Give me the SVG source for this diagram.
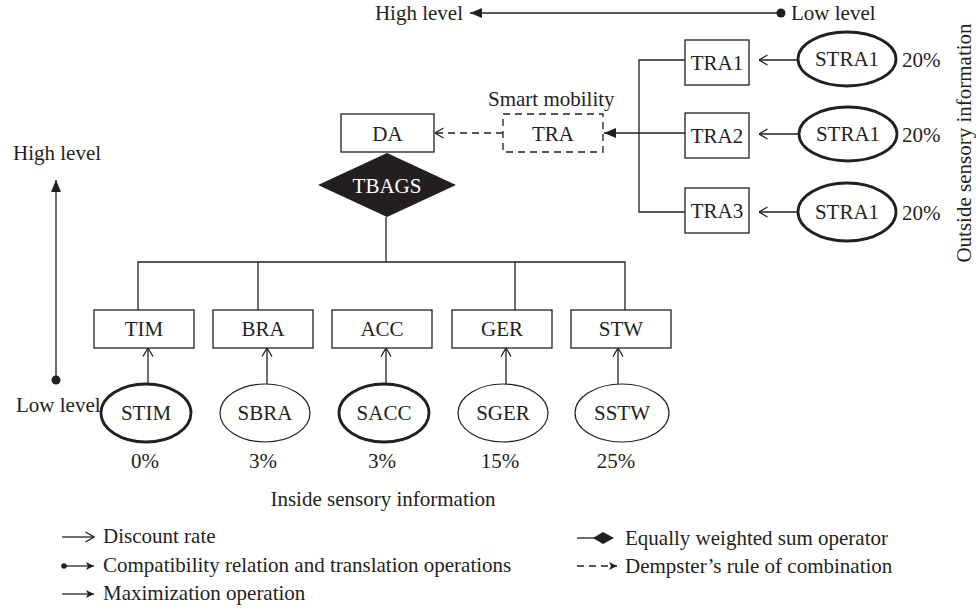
<svg xmlns="http://www.w3.org/2000/svg" width="976" height="610" viewBox="0 0 976 610">
<style>
text{font-family:"Liberation Serif","Times New Roman",serif;font-size:21px;fill:#231f20}
.c{text-anchor:middle}
.box{fill:#fff;stroke:#231f20;stroke-width:1.3}
.ln{fill:none;stroke:#231f20;stroke-width:1.3}
.thin{fill:#fff;stroke:#231f20;stroke-width:1.2}
.thick{fill:#fff;stroke:#231f20;stroke-width:2.8}
.dash{stroke-dasharray:7 5}
</style>
<defs>
<marker id="open" viewBox="0 0 10 12" refX="9.5" refY="6" markerWidth="10" markerHeight="12" orient="auto" markerUnits="userSpaceOnUse"><path d="M1,1 L9.5,6 L1,11" fill="none" stroke="#231f20" stroke-width="1.3"/></marker>
<marker id="fill" viewBox="0 0 12 10" refX="12" refY="5" markerWidth="12" markerHeight="10" orient="auto" markerUnits="userSpaceOnUse"><path d="M0,0 L12,5 L0,10 Z" fill="#231f20"/></marker>
<marker id="dot" viewBox="0 0 10 10" refX="5" refY="5" markerWidth="10" markerHeight="10" orient="auto" markerUnits="userSpaceOnUse"><circle cx="5" cy="5" r="4.5" fill="#231f20"/></marker>
<marker id="sdot" viewBox="0 0 6 6" refX="3" refY="3" markerWidth="6" markerHeight="6" orient="auto" markerUnits="userSpaceOnUse"><circle cx="3" cy="3" r="2.8" fill="#231f20"/></marker>
<marker id="small" viewBox="0 0 8 8" refX="8" refY="4" markerWidth="8" markerHeight="8" orient="auto" markerUnits="userSpaceOnUse"><path d="M0,0 L8,4 L0,8 L2,4 Z" fill="#231f20"/></marker>
</defs>

<g id="labels">
<text x="463" y="20" text-anchor="end">High level</text>
<text x="791" y="20">Low level</text>
<text x="13" y="160">High level</text>
<text x="16" y="412">Low level</text>
<text x="488" y="106">Smart mobility</text>
<text transform="translate(971,143) rotate(-90)" class="c">Outside sensory information</text>
<text x="383" y="506" class="c">Inside sensory information</text>
</g>

<g id="connectors">
<path class="ln" d="M781,13 L470,13" marker-start="url(#dot)" marker-end="url(#fill)"/>
<path class="ln" d="M56,380 L56,180" marker-start="url(#dot)" marker-end="url(#fill)"/>
<path class="ln" d="M798,60 L759,60" marker-end="url(#open)"/>
<path class="ln" d="M800,134 L759,134" marker-end="url(#open)"/>
<path class="ln" d="M798,212 L759,212" marker-end="url(#open)"/>
<path class="ln" d="M685,60 L639,60 L639,212 L685,212"/>
<path class="ln" d="M685,133 L604,133" marker-end="url(#fill)"/>
<path class="ln dash" d="M503,133 L435,133" marker-end="url(#open)"/>
<path class="ln" d="M386,217 L386,262"/>
<path class="ln" d="M138,310 L138,262 L625,262 L625,310"/>
<path class="ln" d="M258,262 L258,310"/>
<path class="ln" d="M515,262 L515,310"/>
<path class="ln" d="M148,384 L148,348" marker-end="url(#open)"/>
<path class="ln" d="M267,384 L267,348" marker-end="url(#open)"/>
<path class="ln" d="M386,384 L386,348" marker-end="url(#open)"/>
<path class="ln" d="M506,384 L506,348" marker-end="url(#open)"/>
<path class="ln" d="M618,384 L618,348" marker-end="url(#open)"/>
</g>

<g id="DA"><rect class="box" x="341" y="114" width="93" height="38"/><text x="387.5" y="141" class="c">DA</text></g>
<g id="TBAGS"><polygon points="387,153 456,185 387,217 318,185" fill="#231f20"/><text x="387" y="193" class="c" style="fill:#fff">TBAGS</text></g>
<g id="TRA"><rect class="box dash" x="503" y="114" width="100" height="38"/><text x="553" y="141" class="c">TRA</text></g>

<g id="TRA1"><rect class="box" x="685" y="40" width="64" height="45"/><text x="717" y="70" class="c">TRA1</text></g>
<g id="TRA2"><rect class="box" x="685" y="113" width="64" height="45"/><text x="717" y="143" class="c">TRA2</text></g>
<g id="TRA3"><rect class="box" x="685" y="188" width="64" height="45"/><text x="717" y="218" class="c">TRA3</text></g>

<g id="STRA1a"><ellipse class="thick" cx="847" cy="59" rx="49" ry="27"/><text x="847" y="66" class="c">STRA1</text><text x="902" y="67">20%</text></g>
<g id="STRA1b"><ellipse class="thick" cx="848" cy="134" rx="49" ry="27"/><text x="848" y="141" class="c">STRA1</text><text x="902" y="142">20%</text></g>
<g id="STRA1c"><ellipse class="thick" cx="847" cy="212" rx="49" ry="29"/><text x="847" y="219" class="c">STRA1</text><text x="902" y="220">20%</text></g>

<g id="TIM"><rect class="box" x="94" y="310" width="100" height="38"/><text x="144" y="336" class="c">TIM</text></g>
<g id="BRA"><rect class="box" x="213" y="310" width="100" height="38"/><text x="263" y="336" class="c">BRA</text></g>
<g id="ACC"><rect class="box" x="332" y="310" width="100" height="38"/><text x="382" y="336" class="c">ACC</text></g>
<g id="GER"><rect class="box" x="452" y="310" width="100" height="38"/><text x="502" y="336" class="c">GER</text></g>
<g id="STW"><rect class="box" x="571" y="310" width="100" height="38"/><text x="621" y="336" class="c">STW</text></g>

<g id="STIM"><ellipse class="thick" cx="146" cy="413" rx="45" ry="29"/><text x="146" y="420" class="c">STIM</text><text x="145" y="468" class="c">0%</text></g>
<g id="SBRA"><ellipse class="thin" cx="265" cy="413" rx="45" ry="29"/><text x="265" y="420" class="c">SBRA</text><text x="263" y="468" class="c">3%</text></g>
<g id="SACC"><ellipse class="thick" cx="384" cy="413" rx="45" ry="29"/><text x="384" y="420" class="c">SACC</text><text x="382" y="468" class="c">3%</text></g>
<g id="SGER"><ellipse class="thin" cx="503" cy="413" rx="45" ry="29"/><text x="503" y="420" class="c">SGER</text><text x="500" y="468" class="c">15%</text></g>
<g id="SSTW"><ellipse class="thin" cx="622" cy="413" rx="47" ry="29"/><text x="622" y="420" class="c">SSTW</text><text x="616" y="468" class="c">25%</text></g>

<g id="legend">
<path class="ln" d="M62,537 L94,537" marker-end="url(#open)"/>
<text x="103" y="543">Discount rate</text>
<path class="ln" d="M64,566 L94,566" marker-start="url(#sdot)" marker-end="url(#small)"/>
<text x="103" y="572">Compatibility relation and translation operations</text>
<path class="ln" d="M62,594 L94,594" marker-end="url(#small)"/>
<text x="103" y="600">Maximization operation</text>
<path class="ln" d="M577,538 L596,538"/>
<polygon points="593,538 603,532 614,538 603,544" fill="#231f20"/>
<text x="625" y="545">Equally weighted sum operator</text>
<path class="ln dash" d="M577,566 L617,566" stroke-dasharray="6 5" marker-end="url(#small)"/>
<text x="625" y="573">Dempster’s rule of combination</text>
</g>
</svg>
